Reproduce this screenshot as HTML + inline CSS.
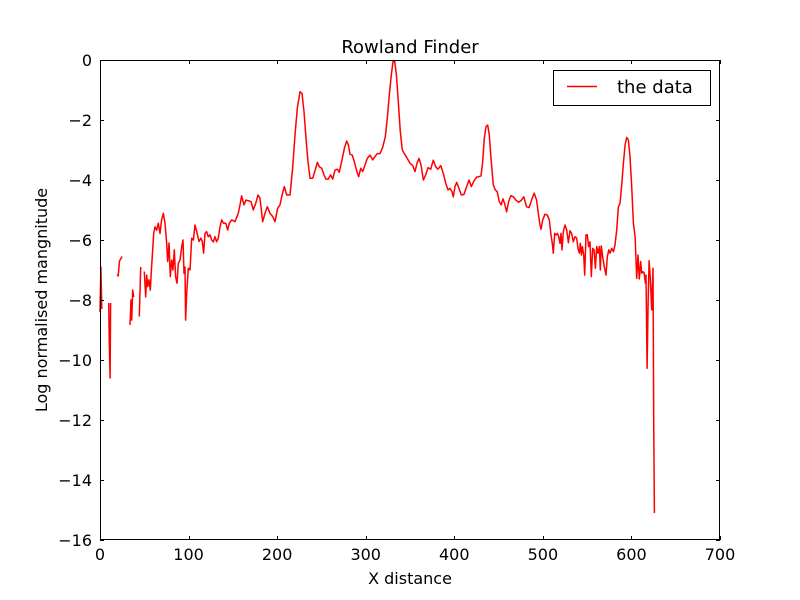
<!DOCTYPE html>
<html><head><meta charset="utf-8"><style>
body{margin:0;background:#fff;}
svg{display:block;font-family:"DejaVu Sans","Liberation Sans",sans-serif;}
</style></head><body>
<svg id="chart" width="800" height="600">
<rect x="0" y="0" width="800" height="600" fill="#fff"/>
<g id="plot"></g>
<g id="axes"></g>
<text x="410" y="53" text-anchor="middle" font-size="18">Rowland Finder</text>
<text x="410" y="584" text-anchor="middle" font-size="16">X distance</text>
<text transform="translate(47,300) rotate(-90)" text-anchor="middle" font-size="16">Log normalised mangnitude</text>
<g>
<rect x="553.5" y="70.5" width="157" height="35" fill="#fff" stroke="#000" stroke-width="1"/>
<line x1="567" y1="86.5" x2="597" y2="86.5" stroke="#f00" stroke-width="1.5"/>
<text x="617" y="93" font-size="18">the data</text>
</g>
</svg>
<script>
const xTicks=[0,100,200,300,400,500,600,700];
const yTicks=[0,-2,-4,-6,-8,-10,-12,-14,-16];
const xData=[0,1,2,null,9.8,10.5,11.4,12,null,19.5,20.5,22,25,null,33.9,35,35.8,36.9,38,null,44.4,45.9,null,50,51.6,52.7,53.8,55.3,56.8,58.3,60.6,62.1,64,65.8,67.7,69.6,71.5,73.4,75.3,76.4,77.9,79.4,80.9,82.4,83.9,85.4,86.9,88.4,90.3,92.2,93.7,94.8,96,96.7,97.9,99.7,101.6,103.5,105.4,107.3,109.2,111.8,114,115.5,117,118.5,120.4,122.3,124.2,126.1,128,129.8,131.7,133.6,135.5,137.4,139.3,141.9,144.2,146,148.7,152.4,156.2,158.4,159.9,162.6,164.8,167.5,170.5,173.1,175.8,178.4,180.6,183.7,186.3,188.9,191.9,195,197.6,200.6,203.2,205.1,208.1,210.8,214.5,217.5,220.2,222.8,225.8,228.1,230.3,232.6,234.8,237.1,240.1,242.4,245.4,247.6,250.3,252.9,255.1,257.8,260.4,262.7,265.3,267.9,270.2,272.8,275.9,278.5,280.4,282.3,284.9,287.6,289.8,292.1,294.3,296.6,299.2,301.8,304.8,307.9,310.5,313.1,316.1,319.1,322.1,324.4,326.6,328.9,330.8,332.7,334.6,336.8,339.1,341.3,344,347,350,353.1,355.7,357.9,360.2,362.4,365.1,367.7,370.3,373.4,376.3,379,381.6,384.7,387.6,390.3,392.9,395.2,397.4,398.9,400.8,402.7,405.3,407.9,411,414,416.6,419.2,422.3,425.3,427.9,430.2,432.1,433.9,435.8,437.7,439.5,441.4,444,446.3,448.5,450.8,453,454.9,456.8,459.1,461.3,463.9,466.6,469.6,472.6,475.5,478.5,481.5,484.5,487.6,490.2,492.9,494.8,496.8,497.9,499.8,502.4,505,507.3,509.2,510.7,511.8,513.4,514.9,516.4,517.9,519.4,520.5,521.6,523.1,525,526.9,528.8,530.6,532.5,534.4,536.3,538.2,539.7,541.2,542.3,543.5,544.6,546.1,547.2,548.7,550.2,551.7,553.2,554.7,556.3,557.8,559.3,560.8,562.3,563.8,564.9,566,567.6,569.4,571.3,572.8,574.4,575.8,577.7,579.6,581.5,583.4,585.3,587.1,589,590.9,592.8,594.7,596.6,598.4,600.3,602.2,604.1,605.2,606,607.4,608.9,610.5,611.6,612.8,614.3,615.8,616.5,617.7,618.8,619.9,621.4,622.9,624.4,625.1,625.9];
const yData=[-8.4,-6.9,-8.3,null,-8.1,-9.4,-10.6,-8.1,null,-7.15,-7.2,-6.7,-6.55,null,-8.83,-8.0,-8.67,-7.67,-7.9,null,-8.55,-6.9,null,-7.05,-7.9,-7.17,-7.55,-7.33,-7.67,-6.9,-5.78,-5.56,-5.67,-5.44,-5.78,-5.33,-5.11,-5.44,-6.11,-6.72,-6.1,-7.22,-6.67,-7.0,-6.33,-7.22,-7.44,-6.78,-6.67,-6.22,-6.0,-7.11,-6.9,-8.67,-7.78,-6.94,-7.0,-5.94,-6.0,-5.5,-5.72,-6.05,-5.94,-6.05,-6.44,-5.78,-5.72,-5.89,-5.83,-6.0,-6.06,-5.89,-6.06,-5.94,-5.56,-5.33,-5.44,-5.44,-5.67,-5.44,-5.33,-5.39,-5.11,-4.78,-4.53,-4.83,-4.67,-4.69,-4.72,-5.0,-4.78,-4.5,-4.61,-5.39,-5.11,-4.89,-5.11,-5.22,-5.39,-4.94,-4.83,-4.56,-4.22,-4.5,-4.5,-3.61,-2.5,-1.61,-1.06,-1.11,-1.72,-2.61,-3.39,-3.94,-3.94,-3.72,-3.41,-3.56,-3.61,-3.83,-3.97,-3.97,-3.83,-3.97,-3.67,-3.64,-3.74,-3.39,-2.94,-2.7,-2.83,-3.14,-3.17,-3.44,-3.7,-3.89,-3.61,-3.72,-3.5,-3.28,-3.17,-3.33,-3.22,-3.12,-3.12,-2.92,-2.56,-1.94,-1.17,-0.5,-0.06,-0.05,-0.5,-1.39,-2.39,-3.0,-3.14,-3.28,-3.44,-3.52,-3.72,-3.44,-3.28,-3.5,-4.0,-3.83,-3.59,-3.64,-3.34,-3.56,-3.64,-3.52,-3.78,-4.11,-4.33,-4.28,-4.39,-4.56,-4.22,-4.08,-4.28,-4.5,-4.48,-4.22,-4.0,-4.22,-4.03,-3.9,-3.89,-3.86,-3.39,-2.61,-2.22,-2.17,-2.5,-3.28,-4.17,-4.33,-4.39,-4.72,-4.83,-4.63,-4.78,-5.06,-4.72,-4.52,-4.56,-4.67,-4.74,-4.68,-4.56,-4.89,-4.92,-4.64,-4.44,-4.67,-5.11,-5.5,-5.64,-5.33,-5.14,-5.17,-5.33,-5.83,-6.11,-6.44,-5.78,-5.83,-5.78,-5.89,-6.11,-5.78,-6.33,-5.72,-5.5,-5.67,-6.09,-5.69,-5.78,-6.06,-5.89,-5.94,-6.28,-6.44,-6.11,-6.5,-6.22,-6.5,-7.17,-5.83,-5.83,-6.22,-6.06,-7.22,-6.28,-6.33,-6.94,-6.22,-6.44,-6.22,-7.0,-6.2,-6.56,-6.89,-7.17,-6.56,-6.33,-6.44,-6.28,-6.39,-6.17,-5.67,-4.89,-4.78,-4.17,-3.44,-2.83,-2.58,-2.67,-3.22,-4.22,-5.44,-5.89,-6.67,-7.28,-6.5,-7.3,-6.72,-7.11,-7.06,-7.09,-7.44,-7.17,-10.28,-8.11,-6.69,-7.33,-8.33,-6.94,-12.0,-15.1];
const L=100,R=720,T=60,B=540;
const xScale=v=>L+(v-0)/(700-0)*(R-L);
const yScale=v=>T+(0-v)/(0-(-16))*(B-T);
const NS='http://www.w3.org/2000/svg';
const axes=document.getElementById('axes');
const plot=document.getElementById('plot');
function mk(tag,attrs,parent){const e=document.createElementNS(NS,tag);for(const k in attrs)e.setAttribute(k,attrs[k]);parent.appendChild(e);return e;}
let d='',pen=false;
for(let i=0;i<xData.length;i++){
  if(xData[i]===null||yData[i]===null){pen=false;continue;}
  d+=(pen?'L':'M')+xScale(xData[i]).toFixed(1)+' '+yScale(yData[i]).toFixed(1);
  pen=true;
}
const line=mk('path',{d:d,fill:'none',stroke:'#f00','stroke-width':1.5,'stroke-linejoin':'round'},plot);


const frame=mk('rect',{x:L+0.5,y:T+0.5,width:R-L-1,height:B-T-1,fill:'none',stroke:'#000','stroke-width':1},axes);


xTicks.forEach(v=>{
  const x=Math.round(xScale(v))+0.5;
  const t1=mk('line',{x1:x,y1:B,x2:x,y2:B-4,stroke:'#000'},axes);
  
  
  const t2=mk('line',{x1:x,y1:T,x2:x,y2:T+4,stroke:'#000'},axes);
  
  
  const tx=mk('text',{x:xScale(v),y:B+20,'text-anchor':'middle','font-size':16},axes);
  tx.textContent=String(v);
  
  
});
yTicks.forEach(v=>{
  const y=Math.round(yScale(v))+0.5;
  const t1=mk('line',{x1:L,y1:y,x2:L+4,y2:y,stroke:'#000'},axes);
  
  
  const t2=mk('line',{x1:R,y1:y,x2:R-4,y2:y,stroke:'#000'},axes);
  
  
  const tx=mk('text',{x:L-8,y:yScale(v)+6,'text-anchor':'end','font-size':16},axes);
  tx.textContent=v<0?'\u2212'+Math.abs(v):String(v);
  
  
});
</script>
</body></html>
